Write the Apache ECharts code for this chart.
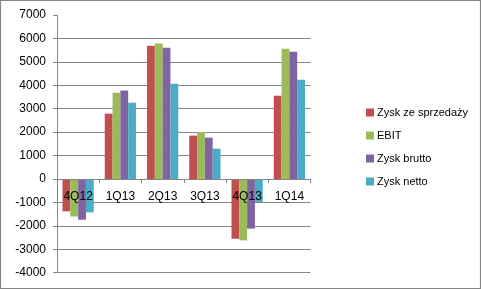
<!DOCTYPE html>
<html>
<head>
<meta charset="utf-8">
<script src="https://cdn.jsdelivr.net/npm/echarts@6/dist/echarts.min.js"></script>
<style>
html,body{margin:0;padding:0;background:#fff;}
#chart{width:481px;height:289px;}
</style>
</head>
<body>
<div id="chart"></div>
<script>
const categories = ['4Q12', '1Q13', '2Q13', '3Q13', '4Q13', '1Q14'];
const seriesNames = ['Zysk ze sprzedaży', 'EBIT', 'Zysk brutto', 'Zysk netto'];
const zyskZeSprzedazy = [-1380, 2790, 5690, 1850, -2550, 3555];
const ebit = [-1600, 3680, 5785, 2005, -2620, 5560];
const zyskBrutto = [-1740, 3780, 5600, 1765, -2120, 5430];
const zyskNetto = [-1425, 3255, 4065, 1295, -980, 4240];
const colors = ['#C0504D', '#9BBB59', '#8064A2', '#4BACC6'];

const values = [zyskZeSprzedazy, ebit, zyskBrutto, zyskNetto];
const gray = '#868686';
const splitColors = [];
for (let i = 0; i < 11; i++) splitColors.push(gray);
splitColors.push('rgba(0,0,0,0)');

const yMin = -4000, yMax = 7000;
const gridTop = 15, gridBottom = 16.3, H = 289;
const plotH = H - gridTop - gridBottom;
const zeroOffset = -plotH * (0 - yMin) / (yMax - yMin);

const chart = echarts.init(document.getElementById('chart'), null, {renderer: 'canvas'});
chart.setOption({
  animation: false,
  color: colors,
  textStyle: {fontFamily: 'Liberation Sans, Arial, sans-serif'},
  graphic: [{
    type: 'rect',
    shape: {x: 0.5, y: 0.5, width: 480, height: 288},
    style: {fill: 'none', stroke: gray, lineWidth: 1.2},
    z: 100
  }],
  grid: {left: 57, right: 170.5, top: gridTop, bottom: gridBottom, containLabel: false},
  legend: {
    orient: 'vertical',
    left: 361,
    top: 102,
    itemWidth: 8,
    itemHeight: 8,
    itemGap: 12,
    icon: 'rect',
    textStyle: {fontSize: 11, color: '#000', padding: [0, 0, 0, -2]},
    data: seriesNames
  },
  xAxis: {
    type: 'category',
    data: categories,
    position: 'bottom',
    offset: zeroOffset,
    z: 10,
    axisLine: {onZero: false, lineStyle: {color: gray, width: 1}},
    axisTick: {show: true, length: 4, alignWithLabel: false, lineStyle: {color: gray}},
    axisLabel: {color: '#000', fontSize: 12, margin: 12, verticalAlign: 'top'},
    splitLine: {show: false}
  },
  yAxis: {
    type: 'value',
    min: yMin,
    max: yMax,
    interval: 1000,
    axisLine: {show: true, lineStyle: {color: gray, width: 1}},
    axisTick: {show: true, length: 4, lineStyle: {color: gray}},
    axisLabel: {color: '#000', fontSize: 12, margin: 11, formatter: v => String(v)},
    splitLine: {show: true, lineStyle: {color: splitColors, width: 1}}
  },
  series: seriesNames.map((name, i) => ({
    name: name,
    type: 'bar',
    data: values[i],
    barGap: '0%',
    barCategoryGap: '26%',
    itemStyle: {color: colors[i]}
  }))
});
</script>
</body>
</html>
